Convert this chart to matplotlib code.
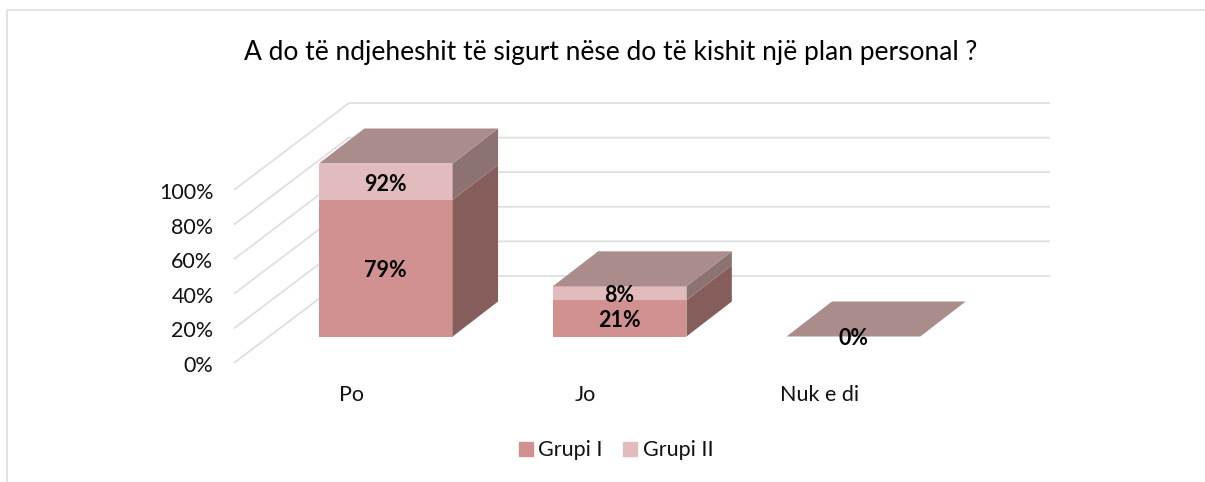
import matplotlib
matplotlib.use('Agg')
import matplotlib.pyplot as plt
from matplotlib.patches import Patch

plt.rcParams['font.family'] = ['Lato', 'DejaVu Sans']

# Datos
categorias = ['Po', 'Jo', 'Nuk e di']
grupi1 = [79, 21, 0]
grupi2 = [21, 8, 0]
etiquetas1 = ['79%', '21%', '0%']
etiquetas2 = ['92%', '8%', '0%']
ticks = [0, 20, 40, 60, 80, 100]
ticks_txt = ['0%', '20%', '40%', '60%', '80%', '100%']
titulo = 'A do të ndjeheshit të sigurt nëse do të kishit një plan personal ?'
series = ['Grupi I', 'Grupi II']

# Colores
c_g1 = '#d19190'
c_g2 = '#e2bcbc'
c_tapa = '#aa8c8b'
c_lado1 = '#855e5c'
c_lado2 = '#8c7371'
c_grid = '#dfdfdf'
c_texto = '#111111'

W, H = 1205, 482
fig = plt.figure(figsize=(W / 100, H / 100), dpi=100, facecolor='white')
ax = fig.add_axes([0, 0, 1, 1])

# escala: px por categoria y px por punto porcentual
esc_x = 233.8
esc_y = 1.73
centro_px = 385.8
ax.set_xlim(-centro_px / esc_x, (W - centro_px) / esc_x)
ax.set_ylim((336.5 - H) / esc_y, 336.5 / esc_y)
ax.axis('off')

# desplazamiento oblicuo de la profundidad
prof_x = 45.4 / esc_x
prof_y = 35 / esc_y
ancho = 133.7 / esc_x
pared_x = 115 / esc_x
pared_y = 87 / esc_y
frente_y = -(363 - 336.5) / esc_y
inicio_x = (234 - centro_px) / esc_x
fin_x = (1050 - centro_px) / esc_x
baja_txt = 2.4 / esc_y

# rejilla: pared lateral y pared del fondo
for t in ticks:
    y0 = t + frente_y
    ax.plot([inicio_x, inicio_x + pared_x, fin_x], [y0, y0 + pared_y, y0 + pared_y],
            color=c_grid, lw=1.3, zorder=1, solid_capstyle='butt')


def caja(x, abajo, alto, cara, lado, tapa=None):
    izq = x - ancho / 2
    der = x + ancho / 2
    arriba = abajo + alto
    ax.fill([izq, der, der, izq], [abajo, abajo, arriba, arriba], color=cara, lw=0, zorder=3)
    ax.fill([der, der + prof_x, der + prof_x, der],
            [abajo, abajo + prof_y, arriba + prof_y, arriba], color=lado, lw=0, zorder=3)
    if tapa:
        ax.fill([izq, der, der + prof_x, izq + prof_x],
                [arriba, arriba, arriba + prof_y, arriba + prof_y], color=tapa, lw=0, zorder=4)


for i in range(len(categorias)):
    caja(i, 0, grupi1[i], c_g1, c_lado1)
    caja(i, grupi1[i], grupi2[i], c_g2, c_lado2, c_tapa)
    centro1 = grupi1[i] / 2 - baja_txt
    centro2 = grupi1[i] + grupi2[i] / 2 - baja_txt
    if grupi1[i] + grupi2[i] > 0:
        ax.text(i, centro1, etiquetas1[i], ha='center', va='center', fontsize=15.5,
                fontweight='bold', color='black', zorder=6)
        ax.text(i, centro2, etiquetas2[i], ha='center', va='center', fontsize=15.5,
                fontweight='bold', color='black', zorder=6)
    else:
        ax.text(i, 0 - baja_txt, etiquetas1[i], ha='center', va='center', fontsize=15.5,
                fontweight='bold', color='black', zorder=6)
    ax.text(i - 34 / esc_x, -(395 - 336.5) / esc_y, categorias[i], ha='center', va='center',
            fontsize=15.5, color=c_texto)

# etiquetas del eje
for t, txt in zip(ticks, ticks_txt):
    ax.text((213.5 - centro_px) / esc_x, t + frente_y - 3 / esc_y, txt, ha='right', va='center',
            fontsize=15.5, color=c_texto)

fig.text(611 / W, 1 - 52 / H, titulo, ha='center', va='center', fontsize=19, color='black')

# marco de la imagen
fig.add_artist(plt.Line2D([7 / W, 7 / W, 1], [0, 1 - 9.5 / H, 1 - 9.5 / H], color=c_grid, lw=1.3))

fig.legend(handles=[Patch(color=c_g1, label=series[0]), Patch(color=c_g2, label=series[1])],
           loc='center', bbox_to_anchor=(616 / W, 1 - 450.5 / H), ncol=2, frameon=False,
           fontsize=15.5, handlelength=0.65, handleheight=0.65, handletextpad=0.25,
           columnspacing=0.95, labelcolor=c_texto)

fig.savefig('out.png', dpi=100)
